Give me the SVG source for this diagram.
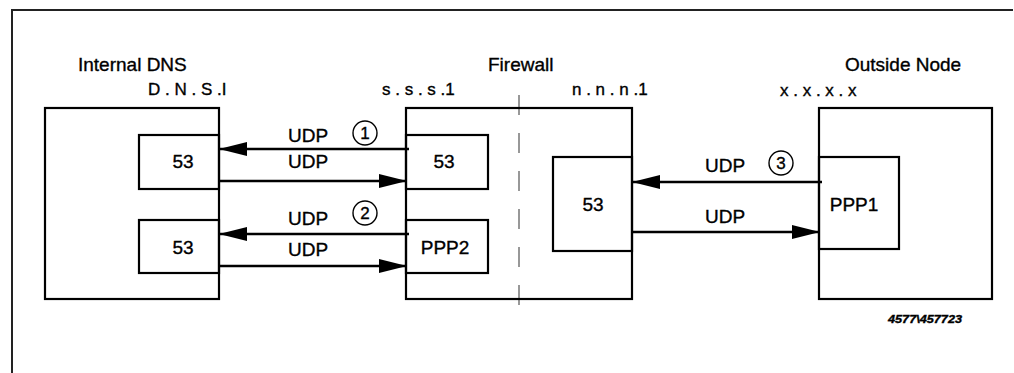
<svg xmlns="http://www.w3.org/2000/svg" width="1014" height="373" viewBox="0 0 1014 373">
<style>
text{font-family:"Liberation Sans",Arial,sans-serif;fill:#000;stroke:#000;stroke-width:0.35}
.t{font-size:19px}
.a{font-size:17px}
.l{font-size:19px;text-anchor:middle}
.d{font-size:17px;text-anchor:middle}
.box{fill:none;stroke:#000;stroke-width:2.2}
.ln{stroke:#000;stroke-width:2.4;fill:none}
.c{fill:none;stroke:#000;stroke-width:1.4}
</style>
<defs>
<marker id="ah" markerUnits="userSpaceOnUse" markerWidth="28" markerHeight="14" refX="27" refY="7" orient="auto">
<path d="M0,0 L28,7 L0,14 Z" fill="#000"/>
</marker>
</defs>
<rect width="1014" height="373" fill="#fff"/>
<path d="M12,373 V10 H1013" fill="none" stroke="#222" stroke-width="2"/>
<line x1="519" y1="95" x2="519" y2="307" stroke="#777" stroke-width="1.5" stroke-dasharray="20 18"/>
<g id="internal-dns">
<rect class="box" x="45" y="108" width="174" height="191"/>
<text class="t" x="78" y="71">Internal DNS</text>
<text class="a" x="148" y="95">D . N . S .I</text>
<g id="idns-53a"><rect class="box" x="139" y="135" width="80" height="54"/><text class="l" x="183" y="168">53</text></g>
<g id="idns-53b"><rect class="box" x="139" y="220" width="80" height="53"/><text class="l" x="183" y="254">53</text></g>
</g>
<g id="firewall">
<rect class="box" x="406" y="108" width="226" height="191"/>
<text class="t" x="488" y="71">Firewall</text>
<text class="a" x="382" y="95">s . s . s .1</text>
<text class="a" x="572" y="95">n . n . n .1</text>
<g id="fw-53a"><rect class="box" x="406" y="135" width="82" height="54"/><text class="l" x="444" y="168">53</text></g>
<g id="fw-ppp2"><rect class="box" x="406" y="220" width="82" height="53"/><text class="l" x="445" y="254">PPP2</text></g>
<g id="fw-53b"><rect class="box" x="553" y="157" width="79" height="94"/><text class="l" x="593" y="211">53</text></g>
</g>
<g id="outside-node">
<rect class="box" x="819" y="108" width="173" height="191"/>
<text class="t" x="845" y="71">Outside Node</text>
<text class="a" x="780" y="96">x . x . x . x</text>
<g id="on-ppp1"><rect class="box" x="819" y="157" width="80" height="92"/><text class="l" x="854" y="211">PPP1</text></g>
</g>
<g id="connectors">
<line class="ln" x1="409" y1="149" x2="220" y2="149" marker-end="url(#ah)"/>
<line class="ln" x1="219" y1="181" x2="406" y2="181" marker-end="url(#ah)"/>
<line class="ln" x1="409" y1="234" x2="220" y2="234" marker-end="url(#ah)"/>
<line class="ln" x1="219" y1="266" x2="406" y2="266" marker-end="url(#ah)"/>
<line class="ln" x1="822" y1="182" x2="633" y2="182" marker-end="url(#ah)"/>
<line class="ln" x1="632" y1="232" x2="819" y2="232" marker-end="url(#ah)"/>
<text class="l" x="308" y="142">UDP</text>
<text class="l" x="308" y="168">UDP</text>
<text class="l" x="308" y="225">UDP</text>
<text class="l" x="308" y="256">UDP</text>
<text class="l" x="725" y="172">UDP</text>
<text class="l" x="725" y="223">UDP</text>
<circle class="c" cx="365" cy="133" r="12"/><text class="d" x="365" y="139">1</text>
<circle class="c" cx="365" cy="213" r="12"/><text class="d" x="365" y="219">2</text>
<circle class="c" cx="781" cy="163" r="12"/><text class="d" x="781" y="169">3</text>
</g>
<text x="888" y="323" font-size="11" font-weight="bold" font-style="italic" stroke-width="0" textLength="74" lengthAdjust="spacingAndGlyphs">4577\457723</text>
</svg>
